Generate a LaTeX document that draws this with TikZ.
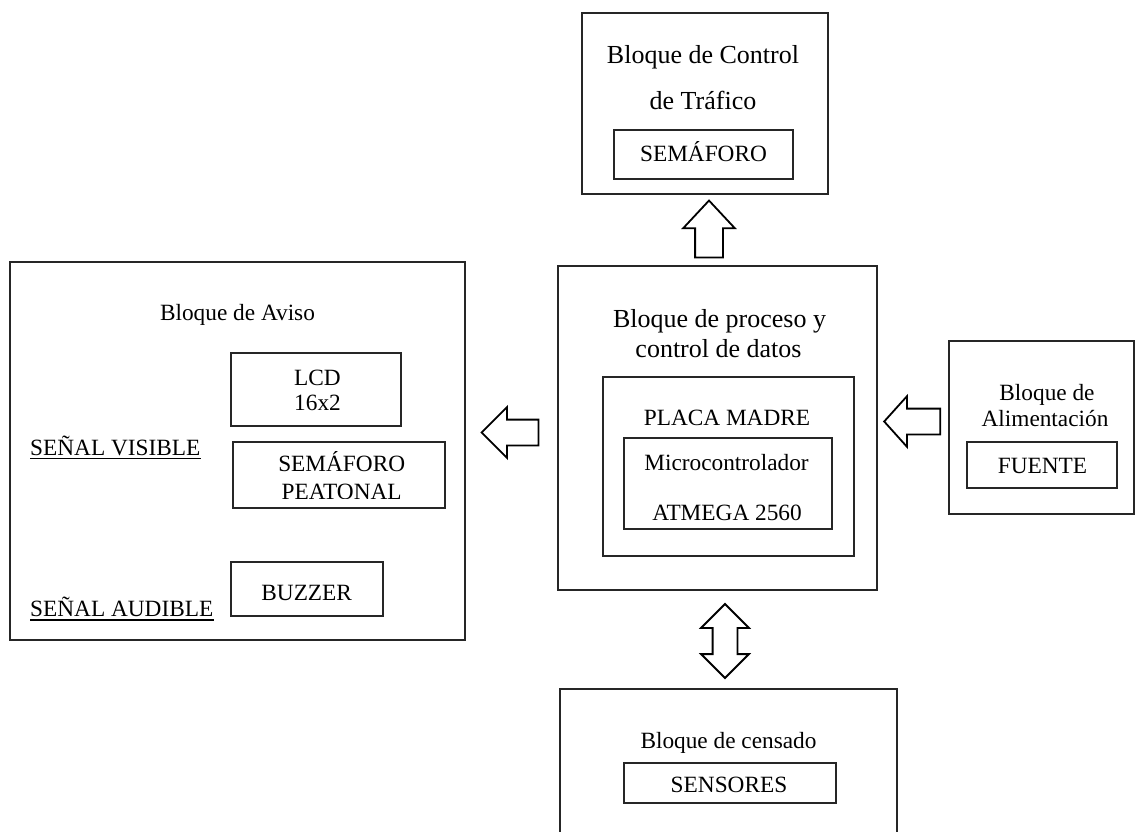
\documentclass[tikz,border=0pt]{standalone}
\usepackage{fontspec}
\setmainfont{Liberation Serif}
\usetikzlibrary{shapes.arrows}
\begin{document}
\begin{tikzpicture}[x=1pt,y=-1pt,
  box/.style={draw=black!85, line width=1.3pt, inner sep=0pt},
  lbl/.style={inner sep=0pt, anchor=base, font=\fontsize{23.3}{28}\selectfont},
  biglbl/.style={lbl, font=\fontsize{26}{31}\selectfont},
  blockarrow/.style={draw=black, line width=1.8pt, fill=white, inner sep=0pt}
]
\clip (0,0) rectangle (1136,832);
\fill[white] (0,0) rectangle (1136,832);

% ---- traffic control block
\node[box, minimum width=246, minimum height=181] (trafico) at (705,103.5) {};
\node[biglbl] (traficoA) at (703,64) {Bloque de Control};
\node[biglbl] (traficoB) at (703,110) {de Tráfico};
\node[box, minimum width=179, minimum height=49] (semaforo) at (703.5,154.5) {};
\node[lbl] (semaforoT) at (703.5,162) {SEMÁFORO};

% ---- processing block
\node[box, minimum width=319, minimum height=324] (proceso) at (717.5,428) {};
\node[biglbl] (procesoA) at (719.5,327) {Bloque de proceso y};
\node[biglbl] (procesoB) at (718.5,357) {control de datos};
\node[box, minimum width=251, minimum height=179] (placa) at (728.5,466.5) {};
\node[lbl] (placaT) at (727,425) {PLACA MADRE};
\node[box, minimum width=208, minimum height=91] (micro) at (728,483.5) {};
\node[lbl] (microA) at (726.5,470) {Microcontrolador};
\node[lbl] (microB) at (727,520) {ATMEGA 2560};

% ---- warning block
\node[box, minimum width=455, minimum height=378] (aviso) at (237.5,451) {};
\node[lbl] (avisoT) at (237.5,320.7) {Bloque de Aviso};
\node[box, minimum width=170, minimum height=73] (lcd) at (316,389.5) {};
\node[lbl] (lcdA) at (317.5,385) {LCD};
\node[lbl] (lcdB) at (317.5,410.7) {16x2};
\node[box, minimum width=212, minimum height=66] (peatonal) at (339,475) {};
\node[lbl] (peatonalA) at (341.7,471.7) {SEMÁFORO};
\begin{scope}
  \clip (233,442) rectangle (445,498.3);
  \node[lbl] (peatonalB) at (341.7,499.5) {PEATONAL};
\end{scope}
\node[box, minimum width=152, minimum height=54] (buzzer) at (307,589) {};
\node[lbl] (buzzerT) at (306.7,600) {BUZZER};
\node[lbl, anchor=base west] (visible) at (30,455) {SEÑAL VISIBLE};
\node[lbl, anchor=base west] (audible) at (30,616) {SEÑAL AUDIBLE};
\draw[line width=1.4pt] ([yshift=-3.5pt]visible.base west) -- ([yshift=-3.5pt]visible.base east);
\draw[line width=1.4pt] ([yshift=-4pt]audible.base west) -- ([yshift=-4pt]audible.base east);

% ---- power block
\node[box, minimum width=185, minimum height=173] (alim) at (1041.5,427.5) {};
\node[lbl] (alimA) at (1047,400) {Bloque de};
\node[lbl] (alimB) at (1045,426) {Alimentación};
\node[box, minimum width=150, minimum height=46] (fuente) at (1042,465) {};
\node[lbl] (fuenteT) at (1042.5,473.3) {FUENTE};

% ---- sensing block
\node[box, minimum width=337, minimum height=171] (censado) at (728.5,774.5) {};
\node[lbl] (censadoT) at (728.5,748) {Bloque de censado};
\node[box, minimum width=212, minimum height=40] (sensores) at (730,783) {};
\node[lbl] (sensoresT) at (729,792.7) {SENSORES};

% ---- block arrows between the blocks
\node[blockarrow, single arrow, shape border rotate=90, inner sep=13pt,
      minimum height=57, single arrow head extend=12pt, single arrow tip angle=86]
      (upArrow) at (709,236.5) {};
\node[blockarrow, single arrow, shape border rotate=180, inner sep=12pt,
      minimum height=57, single arrow head extend=12.5pt, single arrow tip angle=90]
      (leftArrow) at (516.5,432.5) {};
\node[blockarrow, single arrow, shape border rotate=180, inner sep=12pt,
      minimum height=56, single arrow head extend=12.5pt, single arrow tip angle=96]
      (powerArrow) at (918,421.5) {};
\node[blockarrow, double arrow, shape border rotate=90, inner sep=11.5pt,
      minimum height=74, double arrow head extend=11.5pt, double arrow tip angle=90]
      (sensorArrow) at (725,641) {};
\end{tikzpicture}
\end{document}
